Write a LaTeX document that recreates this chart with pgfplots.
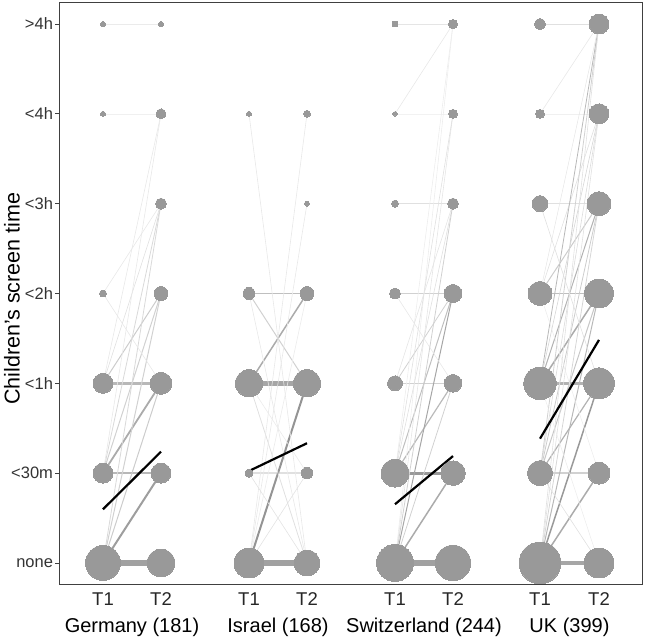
\documentclass[border=0pt]{standalone}
\usepackage{pgfplots}
\pgfplotsset{compat=1.18}
\usepackage{fontspec}
\setmainfont{Liberation Sans}
\definecolor{bub}{RGB}{153,153,153}
\newcommand{\seg}[6]{\addplot[draw=black!#2, line width=#1bp, forget plot] coordinates {(#3,#4) (#5,#6)};}
\begin{document}
\begin{tikzpicture}
\useasboundingbox (-59bp,-56bp) rectangle (586bp,584bp);
\begin{axis}[
  scale only axis, width=583bp, height=582bp,
  xmin=59, xmax=642, ymin=-0.234, ymax=6.245,
  clip=false,
  axis line style={black!75, line width=0.8bp},
  ytick={0,1,2,3,4,5,6},
  ytick pos=left,
  yticklabels={none,<30m,<1h,<2h,<3h,<4h,>4h},
  yticklabel style={font=\fontsize{16.5bp}{19bp}\selectfont, text=black!80, xshift=1bp},
  tick align=outside, major tick length=3.5bp,
  ytick style={black!75, line width=0.8bp},
  xtick={103,161,249,307,395,453,540,599},
  xticklabels={T1,T2,T1,T2,T1,T2,T1,T2},
  xticklabel style={font=\fontsize{18.5bp}{21bp}\selectfont, text=black!85, yshift=-2bp},
  xtick style={draw=none},
  extra x ticks={132,278,424,569.5},
  extra x tick labels={Germany (181),Israel (168),Switzerland (244),UK (399)},
  extra x tick style={xtick style={draw=none}, xticklabel style={yshift=-25bp, font=\fontsize{20bp}{23bp}\selectfont, text=black}},
  ylabel={Children's screen time},
  ylabel style={at={(axis description cs:-0.0806,0.49)}, anchor=center, font=\fontsize{21.5bp}{25bp}\selectfont},
]
% ---- transitions T1 -> T2 : Germany
\seg{6}{37}{103}{0}{161}{0}
\seg{2.5}{28}{103}{1}{161}{1}
\seg{2.5}{28}{103}{2}{161}{2}
\seg{0.6}{8}{103}{6}{161}{6}
\seg{0.6}{6}{103}{5}{161}{5}
\seg{2}{38}{103}{0}{161}{1}
\seg{1.8}{33}{103}{1}{161}{2}
\seg{1}{20}{103}{0}{161}{2}
\seg{1}{20}{103}{2}{161}{3}
\seg{1}{18}{103}{0}{161}{3}
\seg{1}{18}{103}{1}{161}{3}
\seg{0.8}{15}{103}{0}{161}{4}
\seg{0.8}{15}{103}{1}{161}{4}
\seg{0.6}{9}{103}{3}{161}{4}
\seg{0.6}{12}{103}{2}{161}{4}
\seg{0.6}{9}{103}{2}{161}{5}
\seg{0.6}{9}{103}{1}{161}{5}
\seg{0.6}{9}{103}{3}{161}{2}
% ---- Israel
\seg{6}{37}{249}{0}{307}{0}
\seg{5}{35}{249}{2}{307}{2}
\seg{1.5}{25}{249}{3}{307}{3}
\seg{1.5}{12}{249}{1}{307}{1}
\seg{2}{42}{249}{0}{307}{2}
\seg{1.5}{33}{249}{2}{307}{3}
\seg{1}{18}{249}{3}{307}{2}
\seg{0.8}{12}{249}{2}{307}{0}
\seg{0.6}{9}{249}{5}{307}{0}
\seg{0.6}{9}{249}{0}{307}{5}
\seg{0.6}{9}{249}{0}{307}{4}
\seg{0.6}{11}{249}{0}{307}{1}
\seg{0.6}{11}{249}{1}{307}{0}
\seg{0.6}{9}{249}{3}{307}{0}
\seg{0.6}{8}{249}{0}{307}{3}
\seg{0.6}{8}{249}{2}{307}{1}
% ---- Switzerland
\seg{6}{37}{395}{0}{453}{0}
\seg{3}{40}{395}{1}{453}{1}
\seg{1}{18}{395}{2}{453}{2}
\seg{1}{18}{395}{3}{453}{3}
\seg{1}{12}{395}{4}{453}{4}
\seg{0.6}{10}{395}{6}{453}{6}
\seg{0.5}{5}{395}{5}{453}{5}
\seg{1.5}{33}{395}{0}{453}{1}
\seg{1.2}{27}{395}{1}{453}{2}
\seg{1}{25}{395}{1}{453}{3}
\seg{1}{35}{395}{0}{453}{3}
\seg{0.8}{18}{395}{2}{453}{3}
\seg{0.8}{18}{395}{0}{453}{2}
\seg{0.6}{9}{395}{5}{453}{6}
\seg{0.6}{7}{395}{0}{453}{6}
\seg{0.6}{7}{395}{1}{453}{6}
\seg{0.6}{10}{395}{0}{453}{5}
\seg{0.6}{12}{395}{1}{453}{5}
\seg{0.6}{12}{395}{1}{453}{4}
\seg{0.6}{10}{395}{2}{453}{4}
\seg{0.6}{9}{395}{3}{453}{2}
\seg{0.8}{18}{395}{0}{453}{4}
% ---- UK
\seg{4}{35}{540}{0}{599}{0}
\seg{1.5}{18}{540}{1}{599}{1}
\seg{2.5}{30}{540}{2}{599}{2}
\seg{1.5}{25}{540}{3}{599}{3}
\seg{1}{12}{540}{4}{599}{4}
\seg{0.6}{6}{540}{5}{599}{5}
\seg{0.8}{12}{540}{6}{599}{6}
\seg{1.5}{33}{540}{0}{599}{1}
\seg{1.5}{40}{540}{0}{599}{2}
\seg{1}{28}{540}{0}{599}{3}
\seg{1.2}{30}{540}{1}{599}{2}
\seg{1}{22}{540}{1}{599}{3}
\seg{1.5}{33}{540}{2}{599}{3}
\seg{1}{30}{540}{2}{599}{4}
\seg{1}{20}{540}{3}{599}{4}
\seg{0.8}{20}{540}{1}{599}{4}
\seg{0.8}{16}{540}{0}{599}{4}
\seg{0.6}{16}{540}{2}{599}{5}
\seg{0.6}{12}{540}{3}{599}{5}
\seg{0.6}{14}{540}{1}{599}{5}
\seg{0.6}{12}{540}{0}{599}{5}
\seg{0.8}{28}{540}{2}{599}{6}
\seg{0.8}{18}{540}{1}{599}{6}
\seg{0.6}{12}{540}{0}{599}{6}
\seg{0.6}{9}{540}{5}{599}{6}
\seg{0.5}{10}{540}{3}{599}{6}
\seg{0.6}{12}{540}{4}{599}{2}
\seg{0.6}{12}{540}{1}{599}{0}
\seg{0.5}{8}{540}{2}{599}{0}
\seg{0.5}{8}{540}{3}{599}{1}
% ---- bubbles
\addplot[scatter, only marks, mark=*, point meta=explicit,
  mark options={draw=bub, fill=bub, line width=0pt},
  scatter/use mapped color={draw=bub, fill=bub},
  visualization depends on={\thisrow{r}\as\rr},
  scatter/@pre marker code/.append style={/tikz/mark size=\rr}]
  table[x=x, y=y, meta=r] {
x y r
103 6 2.5
103 5 2.5
103 3 3.5
103 2 10
103 1 10
103 0 17.5
161 6 2.5
161 5 5
161 4 5.5
161 3 7
161 2 11
161 1 10
161 0 14
249 5 2.5
249 3 6
249 2 13.7
249 1 4
249 0 15
307 5 3.5
307 4 2.5
307 3 7
307 2 13.7
307 1 5.8
307 0 13
395 6 3
395 5 2.2
395 4 3.5
395 3 5.5
395 2 7.5
395 1 14
395 0 18.5
453 6 4.5
453 5 4.5
453 4 5.5
453 3 9
453 2 8.8
453 1 12.3
453 0 17.8
540 6 5.5
540 5 4.5
540 4 8
540 3 12
540 2 16.3
540 1 12.6
540 0 21
599 6 10
599 5 10
599 4 12
599 3 14.5
599 2 15.5
599 1 11
599 0 15
};
% ---- mean change
\addplot[black, line width=2.2bp] coordinates {(103,0.598) (161,1.239)};
\addplot[black, line width=2.2bp] coordinates {(249,1.024) (307,1.333)};
\addplot[black, line width=2.2bp] coordinates {(395,0.654) (453,1.19)};
\addplot[black, line width=2.2bp] coordinates {(540,1.384) (599,2.483)};
\end{axis}
\end{tikzpicture}
\end{document}
